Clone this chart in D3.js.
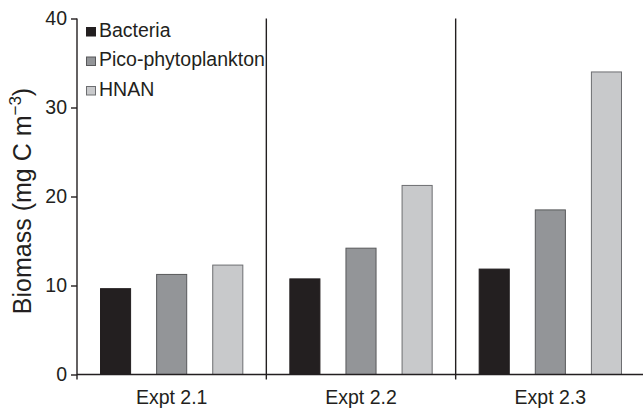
<!DOCTYPE html>
<html>
<head>
<meta charset="utf-8">
<script src="https://cdn.jsdelivr.net/npm/d3@7"></script>
<style>
  html, body { margin: 0; padding: 0; background: #fff; }
  svg { display: block; }
  text { font-family: "Liberation Sans", Arial, Helvetica, sans-serif; fill: #231f20; }
</style>
</head>
<body>
<svg id="chart" width="643" height="411"></svg>
<script>
// Biomass per experiment for each plankton group (mg C m^-3)
const experiments = ["Expt 2.1", "Expt 2.2", "Expt 2.3"];
const groups = ["Bacteria", "Pico-phytoplankton", "HNAN"];
const bacteria = [9.7, 10.8, 11.9];
const picoPhytoplankton = [11.3, 14.25, 18.55];
const hnan = [12.35, 21.3, 34.05];
const yTicks = [0, 10, 20, 30, 40];

const seriesValues = [bacteria, picoPhytoplankton, hnan];
const fills = ["#231f20", "#939598", "#c8c9cb"];
const strokes = ["#231f20", "#58595b", "#6d6e71"];

const svg = d3.select("#chart");
const axisColor = "#231f20";

const x0 = 77, x1 = 645, yTop = 18.5, yBase = 374.5;

const xOuter = d3.scaleBand().domain(experiments).range([x0, x1]).padding(0);
const xInner = d3.scaleBand().domain(groups).range([0, xOuter.bandwidth()])
  .paddingInner(0.446).paddingOuter(0.41);
const y = d3.scaleLinear().domain([0, 40]).range([yBase, yTop]);

// Bars
const rows = experiments.map((e, i) => ({
  exp: e,
  vals: groups.map((g, j) => ({ group: g, j, value: seriesValues[j][i] }))
}));

const panel = svg.selectAll("g.panel").data(rows).join("g")
  .attr("class", "panel")
  .attr("transform", d => `translate(${xOuter(d.exp)},0)`);

panel.selectAll("rect").data(d => d.vals).join("rect")
  .attr("x", d => xInner(d.group) + 0.5)
  .attr("y", d => y(d.value) + 0.5)
  .attr("width", xInner.bandwidth() - 1)
  .attr("height", d => yBase - y(d.value) - 0.5)
  .attr("fill", d => fills[d.j])
  .attr("stroke", d => strokes[d.j])
  .attr("stroke-width", 1);

// Separators between experiments
svg.selectAll("line.sep").data(experiments.slice(1)).join("line")
  .attr("class", "sep")
  .attr("x1", d => xOuter(d)).attr("x2", d => xOuter(d))
  .attr("y1", yTop).attr("y2", yBase + 5)
  .attr("stroke", axisColor).attr("stroke-width", 1.4);

// Y axis
const yAxis = d3.axisLeft(y).tickValues(yTicks).tickSize(6).tickPadding(4)
  .tickFormat(d3.format("d"));
const gy = svg.append("g").attr("transform", `translate(${x0},0)`).call(yAxis);
gy.select(".domain").remove();
gy.selectAll(".tick line").attr("stroke", axisColor).attr("stroke-width", 1.4);
gy.selectAll(".tick text").attr("font-size", 19.5).attr("fill", axisColor)
  .style("font-family", "'Liberation Sans', Arial, sans-serif");
gy.append("line").attr("x1", 0).attr("x2", 0)
  .attr("y1", yTop).attr("y2", yBase + 5)
  .attr("stroke", axisColor).attr("stroke-width", 1.4);

// X axis baseline and category labels
svg.append("line")
  .attr("x1", x0).attr("x2", 643)
  .attr("y1", yBase).attr("y2", yBase)
  .attr("stroke", axisColor).attr("stroke-width", 1.4);

svg.selectAll("text.xlab").data(experiments).join("text")
  .attr("class", "xlab")
  .attr("x", d => xOuter(d) + xOuter.bandwidth() / 2)
  .attr("y", 404)
  .attr("text-anchor", "middle")
  .attr("font-size", 19.5)
  .text(d => d);

// Y axis title
const title = svg.append("text")
  .attr("transform", "translate(31,201) rotate(-90)")
  .attr("text-anchor", "middle")
  .attr("font-size", 25);
title.append("tspan").text("Biomass (mg C m");
title.append("tspan").attr("dy", -10).attr("font-size", 17).text("\u22123");
title.append("tspan").attr("dy", 10).text(")");

// Legend
const legend = svg.append("g");
groups.forEach((g, j) => {
  const ly = 27.5 + j * 29.5;
  legend.append("rect")
    .attr("x", 86.5).attr("y", ly)
    .attr("width", 9).attr("height", 8.5)
    .attr("fill", fills[j]).attr("stroke", strokes[j]).attr("stroke-width", 1);
  legend.append("text")
    .attr("x", 99).attr("y", ly + 9)
    .attr("font-size", 19.5)
    .text(g);
});
</script>
</body>
</html>
